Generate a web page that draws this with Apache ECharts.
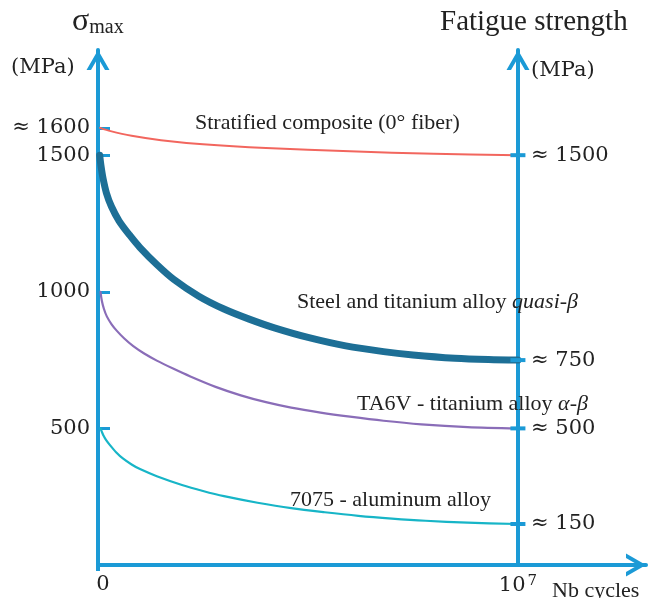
<!DOCTYPE html>
<html>
<head>
<meta charset="utf-8">
<title>Fatigue strength vs number of cycles</title>
<script src="https://cdn.jsdelivr.net/npm/echarts@6/dist/echarts.min.js"></script>
<style>
  html, body { margin: 0; padding: 0; background: #ffffff; }
  #chart { width: 648px; height: 598px; }
</style>
</head>
<body>
<div id="chart"></div>
<script>
// Number of cycles is expressed as a fraction of 10^7 cycles.
const composite = [[0.005,1600],[0.03,1588],[0.08,1571],[0.15,1555],[0.25,1540],[0.4,1526],[0.6,1514],[0.8,1505],[1,1500]];
const steelQuasiBeta = [[0.004,1500],[0.007,1462],[0.012,1415],[0.02,1362],[0.032,1312],[0.05,1260],[0.075,1208],[0.1,1162],[0.14,1100],[0.18,1046],[0.24,984],[0.3,937],[0.36,900],[0.42,868],[0.5,833],[0.59,802],[0.68,781],[0.75,769],[0.85,757],[0.93,752],[1,750]];
const ta6v = [[0.006,1000],[0.009,968],[0.014,938],[0.021,910],[0.032,882],[0.045,857],[0.062,830],[0.084,801],[0.11,774],[0.14,748],[0.18,718],[0.22,690],[0.28,652],[0.34,621],[0.4,596],[0.46,576],[0.53,558],[0.6,543],[0.68,528],[0.77,515],[0.88,505],[1,500]];
const al7075 = [[0.006,500],[0.009,488],[0.013,474],[0.019,458],[0.029,438],[0.043,413],[0.06,389],[0.08,368],[0.1,351],[0.14,325],[0.2,293],[0.25,271],[0.3,252],[0.38,228],[0.46,208],[0.54,193],[0.62,180],[0.7,170],[0.78,162],[0.88,155],[1,150]];

const leftTicks = [500, 1000, 1500, 1600];
const fatigueLimits = [150, 500, 750, 1500];
const xTicks = [0, 1];

const axisBlue = '#1b9ad6';
const textColor = '#222222';
const mathFont = '"DejaVu Serif", serif';
const textFont = '"Liberation Serif", "Times New Roman", serif';

// open chevron used as arrow head (tip at the top)
const chevron = 'path://M0,20 L11.5,0 L23,20 L18.5,20 L11.5,7.9 L4.5,20 Z';
const arrowLine = {
  show: true,
  onZero: false,
  symbol: ['none', chevron],
  symbolSize: [23, 20],
  symbolOffset: [0, -10],
  lineStyle: { color: axisBlue, width: 4 }
};

function curve(name, data, color, width) {
  const last = data[data.length - 1];
  return {
    name: name,
    type: 'line',
    data: data,
    smooth: 0.3,
    showSymbol: false,
    silent: true,
    z: 3,
    lineStyle: { color: color, width: width, cap: 'round', join: 'round' },
    markPoint: {
      silent: true,
      symbol: 'rect',
      symbolSize: [15, 4],
      itemStyle: { color: axisBlue },
      label: { show: false },
      data: [{ coord: last }]
    }
  };
}

const chart = echarts.init(document.getElementById('chart'), null, { renderer: 'canvas' });

chart.setOption({
  animation: false,
  backgroundColor: '#ffffff',
  grid: { left: 98, right: 2, top: 50, bottom: 33, containLabel: false },
  xAxis: {
    type: 'value',
    min: 0,
    max: 1.305,
    axisLine: arrowLine,
    splitLine: { show: false },
    axisTick: { show: true, customValues: [0], length: 6, lineStyle: { color: axisBlue, width: 4 } },
    axisLabel: {
      show: true,
      customValues: xTicks,
      margin: 9,
      color: textColor,
      fontFamily: mathFont,
      fontSize: 21,
      formatter: function (v) { return v === 0 ? '{z|0}' : '{b|10}{s|7}'; },
      rich: {
        z: { fontFamily: mathFont, fontSize: 21, color: textColor, padding: [0, 0, 0, 10] },
        b: { fontFamily: mathFont, fontSize: 21, color: textColor },
        s: { fontFamily: mathFont, fontSize: 15, color: textColor, verticalAlign: 'top', padding: [0, 0, 8, 2] }
      }
    }
  },
  yAxis: [
    {
      type: 'value',
      position: 'left',
      min: 0,
      max: 1885,
      axisLine: arrowLine,
      splitLine: { show: false },
      axisTick: { show: true, inside: true, customValues: leftTicks, length: 12, lineStyle: { color: axisBlue, width: 3 } },
      axisLabel: {
        show: true,
        customValues: leftTicks,
        margin: 8,
        color: textColor,
        fontFamily: mathFont,
        fontSize: 21,
        formatter: function (v) { return v === 1600 ? '\u2248 1600' : String(v); }
      }
    },
    {
      type: 'value',
      position: 'right',
      offset: -128,
      min: 0,
      max: 1885,
      axisLine: arrowLine,
      splitLine: { show: false },
      axisTick: { show: false },
      axisLabel: {
        show: true,
        customValues: fatigueLimits,
        margin: 13,
        color: textColor,
        fontFamily: mathFont,
        fontSize: 21,
        formatter: function (v) { return '\u2248 ' + v; }
      }
    }
  ],
  series: [
    curve('Stratified composite (0° fiber)', composite, '#f2665e', 2),
    curve('Steel and titanium alloy quasi-β', steelQuasiBeta, '#1d6f96', 7),
    curve('TA6V - titanium alloy α-β', ta6v, '#8a6db8', 2.2),
    curve('7075 - aluminum alloy', al7075, '#17b5c7', 2.2)
  ],
  graphic: [
    { type: 'text', left: 72, top: 6, z: 10, style: { text: '{s|σ}{m|max}', rich: {
      s: { fontFamily: textFont, fontSize: 32, fill: textColor },
      m: { fontFamily: textFont, fontSize: 20, fill: textColor, verticalAlign: 'bottom', padding: [10, 0, 0, 0] }
    } } },
    { type: 'text', left: 11, top: 57, z: 10, style: { text: '(MPa)', font: '21px ' + mathFont, fill: textColor } },
    { type: 'text', left: 440, top: 8, z: 10, style: { text: 'Fatigue strength', font: '29px ' + textFont, fill: textColor } },
    { type: 'text', left: 531, top: 60, z: 10, style: { text: '(MPa)', font: '21px ' + mathFont, fill: textColor } },
    { type: 'text', left: 552, top: 580, z: 10, style: { text: 'Nb cycles', font: '22px ' + textFont, fill: textColor } },
    { type: 'text', left: 195, top: 112, z: 10, style: { text: 'Stratified composite (0° fiber)', font: '22px ' + textFont, fill: textColor } },
    { type: 'text', left: 297, top: 291, z: 10, style: {
      text: '{n|Steel and titanium alloy }{i|quasi-β}',
      rich: { n: { fontFamily: textFont, fontSize: 22, fill: textColor }, i: { fontFamily: textFont, fontSize: 22, fontStyle: 'italic', fill: textColor } }
    } },
    { type: 'text', left: 357, top: 393, z: 10, style: {
      text: '{n|TA6V - titanium alloy }{i|α-β}',
      rich: { n: { fontFamily: textFont, fontSize: 22, fill: textColor }, i: { fontFamily: textFont, fontSize: 22, fontStyle: 'italic', fill: textColor } }
    } },
    { type: 'text', left: 290, top: 489, z: 10, style: { text: '7075 - aluminum alloy', font: '22px ' + textFont, fill: textColor } }
  ]
});
</script>
</body>
</html>
